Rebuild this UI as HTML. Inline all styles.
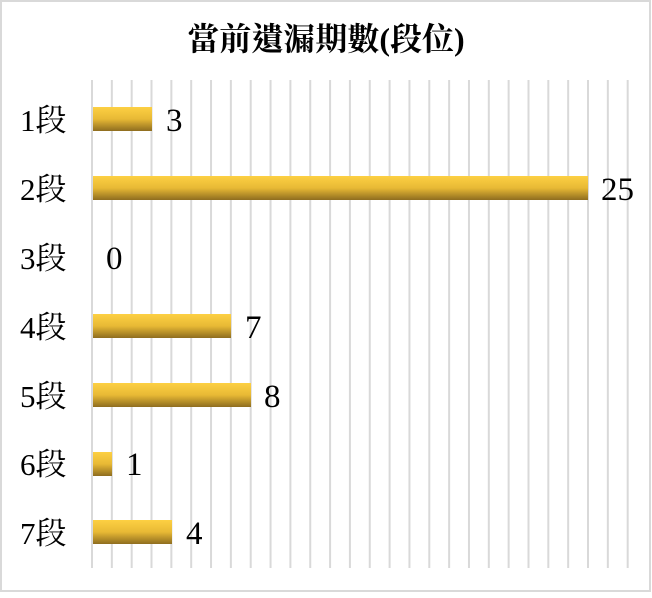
<!DOCTYPE html>
<html><head><meta charset="utf-8"><style>
body{margin:0;background:#fff;}
svg text{font-family:"Liberation Serif","Noto Serif CJK TC","Noto Serif CJK SC",serif;fill:#000;}
</style></head><body>
<svg width="652" height="593" xmlns="http://www.w3.org/2000/svg">
<defs><linearGradient id="g" x1="0" y1="0" x2="0" y2="1">
<stop offset="0" stop-color="#fdd043"/><stop offset="0.5" stop-color="#e8b935"/><stop offset="1" stop-color="#8e6d1f"/></linearGradient></defs>
<rect x="1" y="1" width="649" height="590" fill="#fff" stroke="#d9d9d9" stroke-width="2"/>
<g id="grid" stroke="#d9d9d9" stroke-width="2"></g>
<text x="326" y="50" font-size="32" font-weight="bold" text-anchor="middle">當前遺漏期數(段位)</text>
<g font-size="31">
<text x="20" y="131">1段</text><text x="20" y="200">2段</text><text x="20" y="269">3段</text>
<text x="20" y="338">4段</text><text x="20" y="407">5段</text><text x="20" y="475">6段</text><text x="20" y="544">7段</text>
</g>
<g fill="url(#g)">
<rect x="93" y="107" width="59" height="24"/>
<rect x="93" y="176" width="495" height="24"/>
<rect x="93" y="314" width="138" height="24"/>
<rect x="93" y="383" width="158" height="24"/>
<rect x="93" y="452" width="19" height="24"/>
<rect x="93" y="520" width="79" height="24"/>
</g>
<g font-size="33">
<text x="166" y="131">3</text><text x="601" y="200">25</text><text x="106" y="269">0</text>
<text x="245" y="338">7</text><text x="264" y="407">8</text><text x="126" y="475">1</text><text x="186" y="544">4</text>
</g>
</svg>
<script>
var g=document.getElementById('grid');
for(var i=0;i<28;i++){var x=92+i*19.84;var l=document.createElementNS('http://www.w3.org/2000/svg','line');
l.setAttribute('x1',x);l.setAttribute('x2',x);l.setAttribute('y1',80);l.setAttribute('y2',568);g.appendChild(l);}
</script>
</body></html>
